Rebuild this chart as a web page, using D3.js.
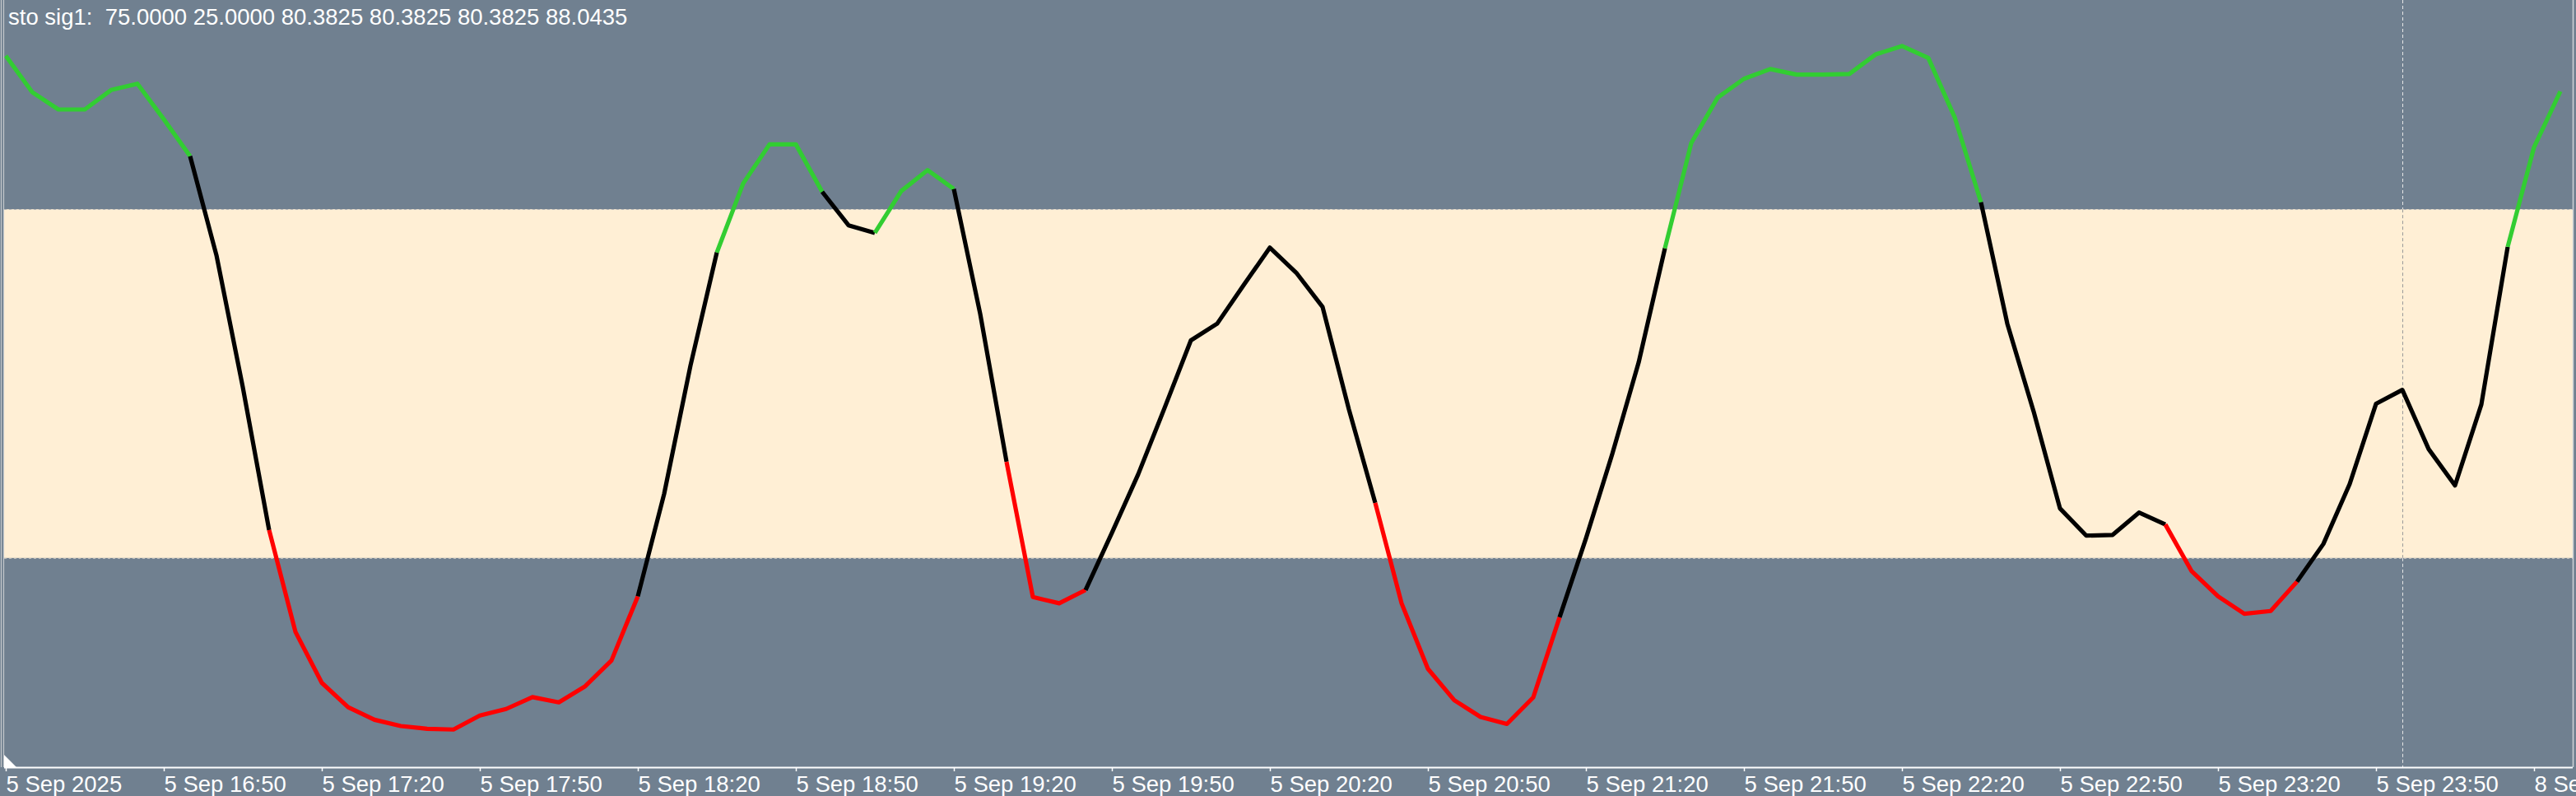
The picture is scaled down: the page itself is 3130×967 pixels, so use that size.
<!DOCTYPE html>
<html>
<head>
<meta charset="utf-8">
<script src="https://cdn.jsdelivr.net/npm/d3@7"></script>
<style>
  html, body { margin: 0; padding: 0; background: #708090; overflow: hidden; }
  svg { display: block; }
  text { font-family: "Liberation Sans", Arial, sans-serif; }
</style>
</head>
<body>
<svg id="chart" width="3130" height="967"></svg>
<script>
var title = "sto sig1:";
var headerValues = ["75.0000", "25.0000", "80.3825", "80.3825", "80.3825", "88.0435"];
var levels = [75, 25];

// stochastic main line, one value per M5 bar
var stoch = [
  97.0, 91.8, 89.3, 89.3, 92.1, 93.0, 87.9, 82.6, 68.4, 49.5,
  29.0, 14.4, 7.1, 3.6, 1.8, 0.9, 0.5, 0.4, 2.4, 3.35,
  5.05, 4.3, 6.6, 10.3, 19.5, 34.2, 52.6, 68.8, 78.7, 84.3,
  84.3, 77.5, 72.7, 71.6, 77.6, 80.6, 77.9, 60.0, 38.8, 19.4,
  18.5, 20.4, 28.6, 37.0, 46.5, 56.2, 58.6, 64.1, 69.5, 65.9,
  61.0, 46.3, 32.9, 18.5, 9.1, 4.6, 2.2, 1.2, 5.0, 16.5,
  27.8, 39.9, 53.0, 69.4, 84.5, 91.0, 93.7, 95.1, 94.3, 94.3,
  94.4, 97.2, 98.4, 96.7, 88.2, 76.0, 58.6, 46.0, 32.1, 28.2,
  28.3, 31.5, 29.8, 23.1, 19.5, 17.0, 17.4, 21.6, 27.0, 35.6,
  47.1, 49.1, 40.6, 35.4, 47.0, 69.6, 83.9, 91.9
];

var tickBars = d3.range(0, 97, 6);
var tickLabels = [
  "5 Sep 2025", "5 Sep 16:50", "5 Sep 17:20", "5 Sep 17:50", "5 Sep 18:20",
  "5 Sep 18:50", "5 Sep 19:20", "5 Sep 19:50", "5 Sep 20:20", "5 Sep 20:50",
  "5 Sep 21:20", "5 Sep 21:50", "5 Sep 22:20", "5 Sep 22:50", "5 Sep 23:20",
  "5 Sep 23:50", "8 Sep 00:25"
];
var separators = [91];

var svg = d3.select("#chart"),
    width = +svg.attr("width"),
    height = +svg.attr("height"),
    left = 5, right = 3126, bottom = 932;

var x = d3.scaleLinear().domain([0, stoch.length - 1]).range([7, 7 + 32 * (stoch.length - 1)]),
    y = d3.scaleLinear().domain([-5, 105]).range([bottom, 0]);

// overbought / oversold band
svg.append("rect")
    .attr("x", left)
    .attr("y", y(levels[0]))
    .attr("width", right - left)
    .attr("height", y(levels[1]) - y(levels[0]))
    .attr("fill", "#ffefd5");

svg.selectAll(".level")
    .data(levels)
    .enter()
    .append("line")
    .attr("class", "level")
    .attr("x1", left).attr("x2", right)
    .attr("y1", d => Math.round(y(d)) + 0.5)
    .attr("y2", d => Math.round(y(d)) + 0.5)
    .attr("stroke", "#b8b8b8")
    .attr("stroke-dasharray", "3,3");

// day separator, light on the grey part and darker across the band
separators.forEach(function(b) {
  var sx = Math.round(x(b)) + 0.5;
  [[0, y(levels[0]), "#e6e6e6"], [y(levels[0]), y(levels[1]), "#9a9a9a"], [y(levels[1]), bottom, "#e6e6e6"]]
    .forEach(function(s) {
      svg.append("line")
          .attr("x1", sx).attr("x2", sx)
          .attr("y1", s[0]).attr("y2", s[1])
          .attr("stroke", s[2])
          .attr("stroke-dasharray", "4,3");
    });
});

function colorOf(v) {
  return v > levels[0] ? "#32cd32" : v < levels[1] ? "#ff0000" : "#000000";
}

// segment i-1 -> i takes the colour of bar i; join equal colours into runs
var runs = [];
for (var i = 1; i < stoch.length; i++) {
  var c = colorOf(stoch[i]), last = runs[runs.length - 1];
  if (last && last.color === c) last.end = i;
  else runs.push({color: c, start: i - 1, end: i});
}

var line = d3.line().x(d => x(d)).y(d => y(stoch[d]));

svg.selectAll(".run")
    .data(runs)
    .enter()
    .append("path")
    .attr("class", "run")
    .attr("d", d => line(d3.range(d.start, d.end + 1)))
    .attr("fill", "none")
    .attr("stroke", d => d.color)
    .attr("stroke-width", 5.2)
    .attr("stroke-linejoin", "round");

// frame
svg.append("line").attr("x1", 1.5).attr("x2", 1.5).attr("y1", 0).attr("y2", bottom)
    .attr("stroke", "#c4c8cc").attr("stroke-width", 1.2);
svg.append("line").attr("x1", 4.5).attr("x2", 4.5).attr("y1", 0).attr("y2", bottom)
    .attr("stroke", "#c4c8cc").attr("stroke-width", 1.2);
svg.append("line").attr("x1", right + 0.5).attr("x2", right + 0.5).attr("y1", 0).attr("y2", bottom)
    .attr("stroke", "#d0d4d8").attr("stroke-width", 1.5);

// shift marker
svg.append("path")
    .attr("d", "M" + left + "," + (bottom - 15) + "L" + left + "," + bottom + "L" + (left + 15) + "," + bottom + "Z")
    .attr("fill", "#ffffff");

var xAxis = d3.axisBottom(x)
    .tickValues(tickBars)
    .tickFormat((d, i) => tickLabels[i])
    .tickSizeInner(5)
    .tickSizeOuter(0);

var gx = svg.append("g")
    .attr("transform", "translate(0," + bottom + ")")
    .call(xAxis);

gx.select(".domain")
    .attr("d", "M" + left + ",0.5H" + right)
    .attr("stroke", "#ffffff")
    .attr("stroke-width", 2);
gx.selectAll(".tick line").attr("stroke", "#ffffff").attr("stroke-width", 1.5);
gx.selectAll(".tick text")
    .attr("text-anchor", "start")
    .attr("y", 30)
    .attr("dy", 0)
    .attr("fill", "#ffffff")
    .style("font-size", "27.5px");

svg.append("text")
    .attr("x", 10)
    .attr("y", 30)
    .attr("fill", "#ffffff")
    .style("font-size", "27.5px")
    .style("white-space", "pre")
    .text(title + "  " + headerValues.join(" "));
</script>
</body>
</html>
